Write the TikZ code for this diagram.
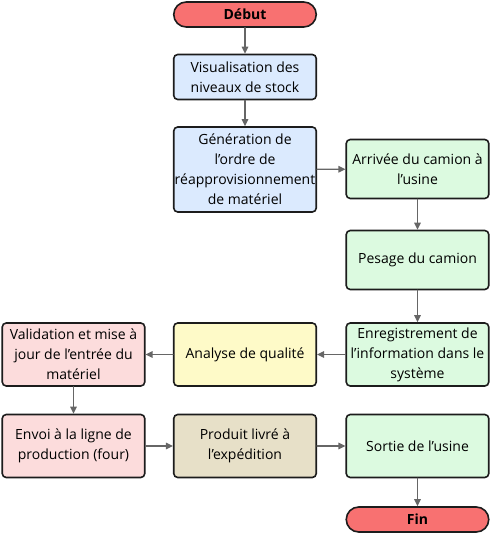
\documentclass[tikz,border=0pt]{standalone}
\usepackage{fontspec}
\setmainfont{Open Sans}
\usetikzlibrary{arrows.meta}
\definecolor{ink}{RGB}{28, 28, 28}
\definecolor{arrowgray}{RGB}{102, 102, 102}
\definecolor{startred}{RGB}{248, 113, 113}
\definecolor{stockblue}{RGB}{219, 234, 254}
\definecolor{truckgreen}{RGB}{220, 250, 224}
\definecolor{checkyellow}{RGB}{254, 250, 200}
\definecolor{stockpink}{RGB}{252, 220, 220}
\definecolor{shiptan}{RGB}{231, 224, 200}

\begin{document}
\begin{tikzpicture}[x=1pt, y=-1pt, line width=1.6pt, line cap=round,
    box/.style={draw=ink, rounded corners=4pt, minimum width=142.5pt, align=center,
                inner sep=1pt, font=\fontsize{14}{20}\selectfont},
    terminal/.style={box, fill=startred, rounded corners=12.5pt, minimum height=25pt,
                inner sep=0pt, font=\fontsize{14}{16}\selectfont\bfseries},
    flow/.style={draw=arrowgray, line width=1.4pt, -{Triangle[length=7pt, width=6.5pt]}}]

                 \useasboundingbox (0, 0) rectangle (490, 534);

                 \node[terminal] (debut) at (245, 14.5) {Début};
                 \node[box, fill=stockblue, minimum height=45pt] (visu) at (245, 77)
                 {Visualisation des\\niveaux de stock};
                 \node[box, fill=stockblue, minimum height=85pt] (gen) at (245, 169.5)
                 {Génération de\\l’ordre de\\réapprovisionnement\\de matériel};

                 \node[box, fill=truckgreen, minimum height=59pt] (arr) at (417.5, 169)
                 {Arrivée du camion à\\l’usine};
                 \node[box, fill=truckgreen, minimum height=59pt] (pes) at (417.5, 260)
                 {Pesage du camion};
                 \node[box, fill=truckgreen, minimum height=63pt] (enr) at (417.5, 354.5)
                 {Enregistrement de\\l’information dans le\\système};

                 \node[box, fill=checkyellow, minimum height=63pt] (ana) at (245, 354.5)
                 {Analyse de qualité};
                 \node[box, fill=stockpink, minimum height=63pt] (val) at (73.5, 354.5)
                 {Validation et mise à\\jour de l’entrée du\\matériel};

                 \node[box, fill=stockpink, minimum height=63pt] (env) at (73.5, 446)
                 {Envoi à la ligne de\\production (four)};
                 \node[box, fill=shiptan, minimum height=63pt] (prod) at (245, 446)
                 {Produit livré à\\l’expédition};
                 \node[box, fill=truckgreen, minimum height=63pt] (sort) at (417.5, 446)
                 {Sortie de l'usine};
                 \node[terminal] (fin) at (417.5, 519.5) {Fin};

                 \draw[flow] (debut) -- (visu);
                 \draw[flow] (visu) -- (gen);
                 \draw[flow] (gen) -- (arr);
                 \draw[flow] (arr) -- (pes);
                 \draw[flow] (pes) -- (enr);
                 \draw[flow] (enr) -- (ana);
                 \draw[flow] (ana) -- (val);
                 \draw[flow] (val) -- (env);
                 \draw[flow] (env) -- (prod);
                 \draw[flow] (prod) -- (sort);
                 \draw[flow] (sort) -- (fin);

             \end{tikzpicture}
\end{document}
